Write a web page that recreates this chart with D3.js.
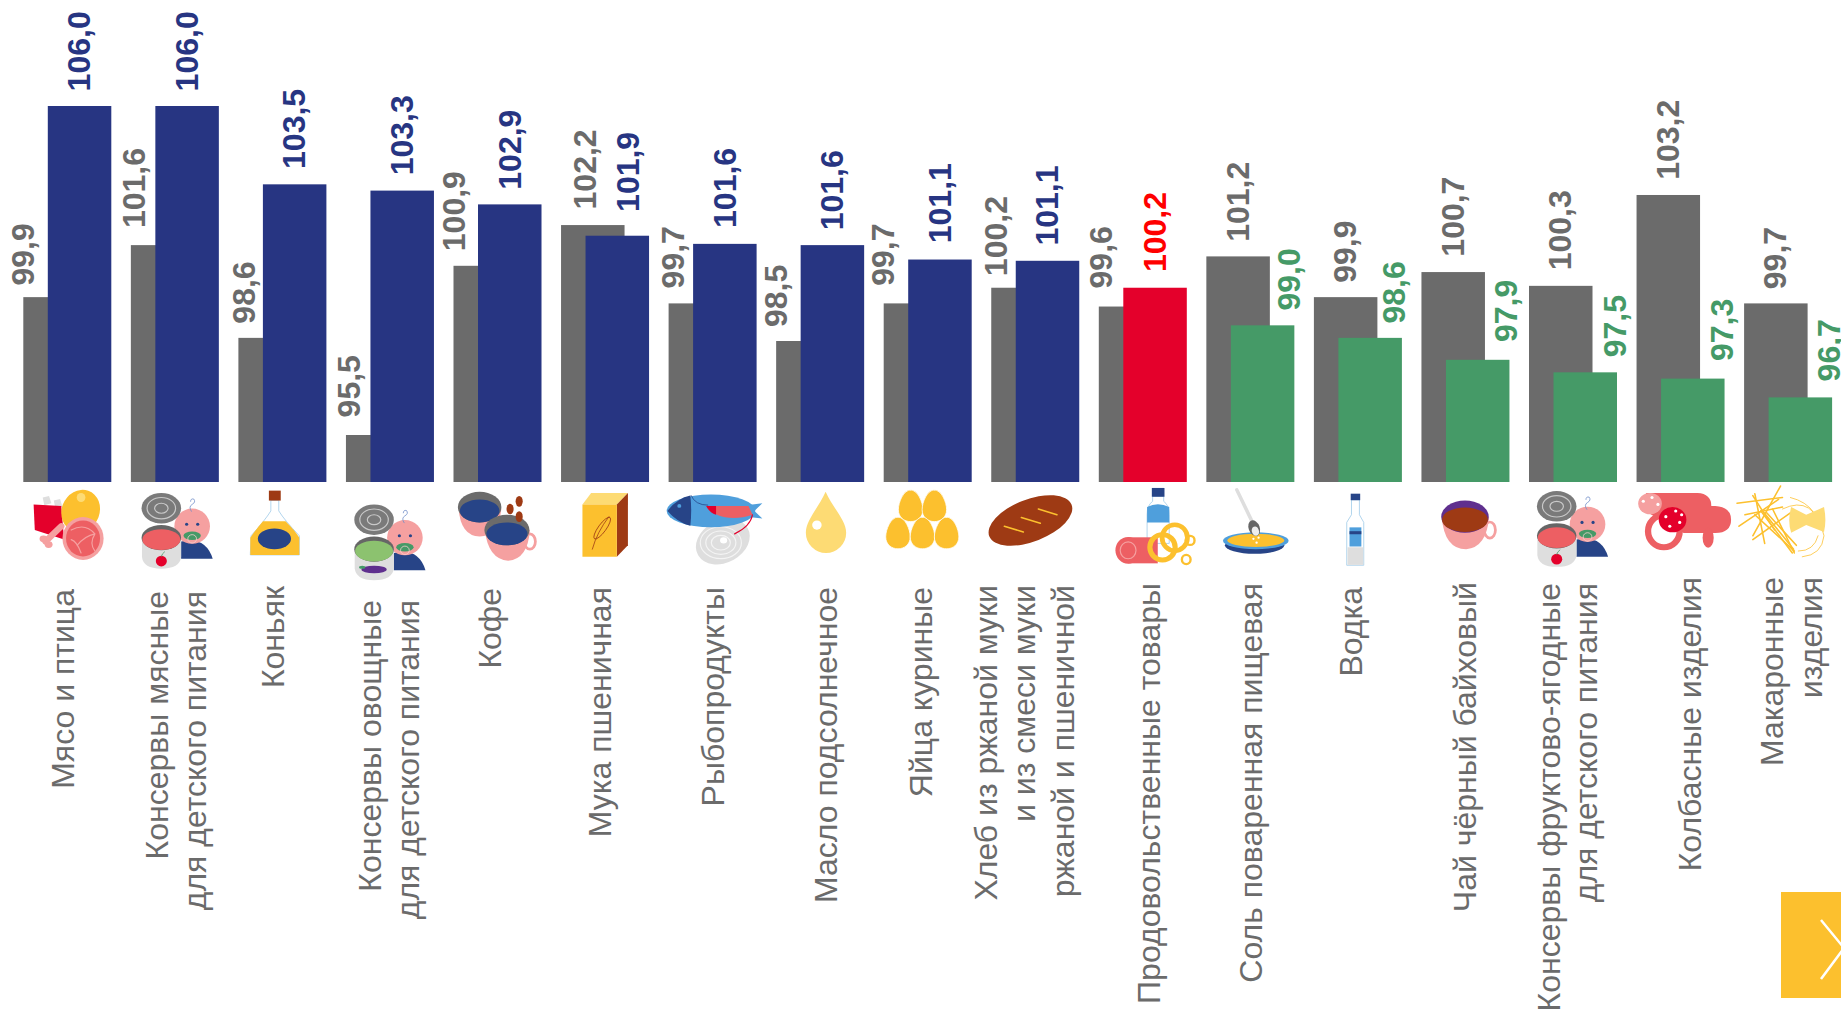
<!DOCTYPE html>
<html>
<head>
<meta charset="utf-8">
<style>
  html, body { margin: 0; padding: 0; background: #fff; overflow: hidden; }
  svg { display: block; }
  text { font-family: "Liberation Sans", Arial, sans-serif; }
</style>
</head>
<body>
<div id="chart"></div>
<script src="https://cdn.jsdelivr.net/npm/d3@7"></script>
<script>
"use strict";
// category labels, one inner array per wrapped line
const categories = [
    ["Мясо и птица"],
    ["Консервы мясные", "для детского питания"],
    ["Коньяк"],
    ["Консервы овощные", "для детского питания"],
    ["Кофе"],
    ["Мука пшеничная"],
    ["Рыбопродукты"],
    ["Масло подсолнечное"],
    ["Яйца куриные"],
    ["Хлеб из ржаной муки", "и из смеси муки", "ржаной и пшеничной"],
    ["Продовольственные товары"],
    ["Соль поваренная пищевая"],
    ["Водка"],
    ["Чай чёрный байховый"],
    ["Консервы фруктово-ягодные", "для детского питания"],
    ["Колбасные изделия"],
    ["Макаронные", "изделия"]
];
const prevValues = [99.9, 101.56, 98.6, 95.5, 100.9, 102.2, 99.7, 98.5, 99.7, 100.2, 99.6, 101.2, 99.9, 100.7, 100.26, 103.16, 99.7];
const currValues = [106.0, 106.0, 103.5, 103.3, 102.86, 101.86, 101.6, 101.56, 101.1, 101.06, 100.2, 99.0, 98.6, 97.9, 97.5, 97.3, 96.7];
const totalIndex = 10;

// hand placement of the labels, relative to each group's left edge and to the bar top
const prevLabelDx = [11, 14.2, 16.6, 13.8, 11, 34.9, 15.8, 11, 10.3, 16.2, 13.5, 42.4, 42, 42.6, 42, 42.4, 41.5];
const currLabelDx = [67, 67, 67, 67, 67, 77.5, 67, 67, 67, 67, 67, 93.7, 91, 96, 96.5, 96.4, 95.7];
const prevLabelGap = [13, 18.5, 15.6, 19, 16, 17, 16.4, 15.4, 19, 13, 19.5, 16, 15.8, 16.8, 16.9, 16.6, 15.6];
const currLabelGap = [16, 16, 16.8, 16.7, 16.1, 25.2, 17.3, 16.2, 17.7, 16.6, 17.1, 16.2, 15.7, 19.2, 16.4, 18.9, 17.4];
const lineDx = [[50.7], [37.1, 75.1], [45.6], [35, 73], [47.5], [50], [55.4], [60.8], [48.3], [5.7, 43.7, 83.2],
    [60.8], [55.7], [48.1], [55], [31, 68], [64.4], [38.9, 77.4]];
const lineTop = [589, 591, 586, 600, 588, 587, 587, 587, 587, 585, 583, 583, 587, 582, 583, 577, 577];

const width = 1841;
const height = 1010;
const colors = {
    gray: "#6b6b6b", blue: "#273582", green: "#459a67", red: "#e4002b", redText: "#ff0000",
    yellow: "#fcc02e", pale: "#fddb74", pink: "#f5a0a0", coral: "#ed5f63", navy: "#274487",
    sky: "#4f9fdc", brown: "#9e3a14", light: "#dedede", outline: "#9cc9e8", purple: "#5f2f8e"
};

const svg = d3.select("#chart").append("svg")
    .attr("width", width)
    .attr("height", height);

const barWidth = 63.5;
const barShift = 24.5;
const step = 107.55;
const x = d3.scaleBand()
    .domain(d3.range(categories.length))
    .range([23.3, 23.3 + step * (categories.length - 1) + barWidth + barShift])
    .paddingInner(1 - (barWidth + barShift) / step);
const y = d3.scaleLinear()
    .domain([94, 106])
    .range([482, 106]);

const comma = d3.formatLocale({ decimal: ",", thousands: " ", grouping: [3], currency: ["", ""] }).format(".1f");
const currColor = i => i === totalIndex ? colors.red : (currValues[i] > currValues[totalIndex] ? colors.blue : colors.green);
const currText = i => i === totalIndex ? colors.redText : currColor(i);

const groups = svg.selectAll(".group")
    .data(categories)
    .enter().append("g")
    .attr("class", "group");

groups.append("rect")
    .attr("x", (d, i) => x(i))
    .attr("y", (d, i) => y(prevValues[i]))
    .attr("width", barWidth)
    .attr("height", (d, i) => y(94) - y(prevValues[i]))
    .attr("fill", colors.gray);

groups.append("rect")
    .attr("x", (d, i) => x(i) + barShift)
    .attr("y", (d, i) => y(currValues[i]))
    .attr("width", barWidth)
    .attr("height", (d, i) => y(94) - y(currValues[i]))
    .attr("fill", (d, i) => currColor(i));

const valueLabel = (sel, values, dx, gap, fill) => sel.append("text")
    .attr("transform", (d, i) => `translate(${x(i) + dx[i]},${y(values[i]) - gap[i] + 1.4}) rotate(-90)`)
    .attr("font-size", 32)
    .attr("font-weight", "bold")
    .attr("fill", fill)
    .text((d, i) => comma(values[i]));

valueLabel(groups, prevValues, prevLabelDx, prevLabelGap, colors.gray);
valueLabel(groups, currValues, currLabelDx, currLabelGap, (d, i) => currText(i));

groups.each(function (lines, i) {
    d3.select(this).selectAll(".cat")
        .data(lines)
        .enter().append("text")
        .attr("class", "cat")
        .attr("transform", (l, k) => `translate(${x(i) + lineDx[i][k]},${lineTop[i]}) rotate(-90)`)
        .attr("text-anchor", "end")
        .attr("font-size", 32)
        .attr("fill", colors.gray)
        .text(l => l);
});

// icon helpers, drawn in crop units and scaled back to the page
const icon = originX => svg.append("g")
    .attr("transform", `translate(${originX},0) scale(${1 / 2.529},${1 / 2.613})`);
const ell = (g, cx, cy, rx, ry, fill, rot) => g.append("ellipse")
    .attr("cx", cx).attr("cy", cy).attr("rx", rx).attr("ry", ry).attr("fill", fill)
    .attr("transform", rot ? `rotate(${rot} ${cx} ${cy})` : null);
const ring = (g, cx, cy, rx, ry, stroke, sw) => g.append("ellipse")
    .attr("cx", cx).attr("cy", cy).attr("rx", rx).attr("ry", ry)
    .attr("fill", "none").attr("stroke", stroke).attr("stroke-width", sw);
const path = (g, d, fill, stroke, sw) => g.append("path")
    .attr("d", d).attr("fill", fill || "none")
    .attr("stroke", stroke || "none").attr("stroke-width", sw || 0).attr("stroke-linecap", "round");

// tin and baby, used three times
function canBaby(originX, dx, dy, soup, fruit) {
    const g = icon(originX).append("g").attr("transform", `translate(${dx},${dy})`);
    path(g, "M458,1415 Q520,1400 538,1460 L458,1460 Z", colors.navy);
    ell(g, 486, 1375, 45, 46, colors.pink);
    ell(g, 472, 1370, 4, 4, colors.navy);
    ell(g, 500, 1370, 4, 4, colors.navy);
    ell(g, 486, 1400, 22, 11, colors.green);
    ring(g, 486, 1408, 11, 11, "#f9d0d0", 2);
    path(g, "M484,1336 Q476,1324 486,1318 Q496,1312 490,1304 Q482,1302 482,1310", null, "#6f8cc8", 2);
    ell(g, 408, 1328, 50, 40, "#7a7a7a");
    ring(g, 408, 1328, 36, 28, "#c9c9c9", 3);
    ring(g, 408, 1328, 17, 13, "#c9c9c9", 3);
    path(g, "M359,1405 V1455 Q362,1486 408,1486 Q455,1486 458,1455 V1405 Z", colors.light);
    ell(g, 408, 1405, 50, 33, "#666");
    ell(g, 408, 1410, 48, 27, soup);
    fruit(g);
}
const cherry = g => {
    ell(g, 408, 1466, 14, 14, colors.red);
    path(g, "M408,1454 Q410,1446 416,1442", null, colors.green, 2);
};
const eggplant = g => {
    ell(g, 408, 1458, 32, 10, colors.purple);
    ell(g, 378, 1452, 8, 4, colors.green);
};

// 0 meat and poultry
let g = icon(0);
path(g, "M108,1300 L124,1296 L130,1315 L112,1320 Z M136,1308 L152,1304 L158,1325 L140,1328 Z", colors.light);
path(g, "M85,1318 L155,1322 L162,1410 L88,1385 Z", colors.red);
path(g, "M155,1375 L115,1415", null, colors.pink, 16);
ell(g, 110, 1408, 10, 9, colors.pink);
ell(g, 123, 1423, 10, 9, colors.pink);
ell(g, 204, 1335, 48, 56, colors.yellow, 20);
ell(g, 205, 1300, 11, 12, colors.pale);
ell(g, 210, 1407, 52, 56, colors.pink);
ell(g, 210, 1407, 43, 47, colors.coral);
path(g, "M180,1385 Q215,1365 240,1395 Q225,1420 240,1440 M195,1425 Q215,1400 240,1395 M180,1410 Q195,1415 205,1445", null, colors.pink, 3);

canBaby(0, 0, 0, colors.coral, cherry);

// 2 cognac
g = icon(0);
path(g, "M685,1308 V1335 Q670,1360 635,1400 L633,1450 H757 V1400 Q720,1360 705,1335 V1308 Z", "#fff", colors.outline, 2);
path(g, "M665,1362 H722 Q745,1385 757,1405 V1450 H633 V1405 Q650,1380 665,1362 Z", colors.yellow);
ell(g, 694, 1408, 42, 27, colors.navy);
path(g, "M680,1282 H710 V1308 H680 Z", colors.brown);

canBaby(0, 538, 30, "#8cc26f", eggplant);

// 4 coffee
g = icon(0);
path(g, "M1160,1330 Q1165,1400 1213,1402 Q1260,1400 1268,1330 Z", colors.pink);
ell(g, 1213, 1325, 55, 40, "#6b6b6b");
ell(g, 1213, 1335, 50, 30, colors.navy);
ring(g, 1340, 1415, 14, 20, colors.pink, 7);
path(g, "M1226,1385 Q1235,1462 1285,1465 Q1335,1462 1340,1385 Z", colors.pink);
ell(g, 1282, 1385, 57, 40, "#6b6b6b");
ell(g, 1282, 1395, 52, 30, colors.navy);
ell(g, 1313, 1310, 9, 14, colors.brown);
ell(g, 1290, 1330, 9, 14, colors.brown);
ell(g, 1313, 1350, 9, 14, colors.brown);

// 5 flour
g = icon(0);
path(g, "M1473,1318 L1495,1288 H1588 L1560,1318 Z", colors.pale);
path(g, "M1560,1318 L1588,1288 V1425 L1560,1455 Z", colors.brown);
path(g, "M1473,1318 H1560 V1455 H1473 Z", colors.yellow);
path(g, "M1498,1435 Q1510,1390 1540,1350", null, colors.brown, 2);
ell(g, 1523, 1380, 10, 34, "none", 35).attr("stroke", colors.brown).attr("stroke-width", 2);

// 6 fish products
g = icon(620);
ell(g, 260, 1415, 72, 55, colors.light, -30);
[52, 38, 24].forEach(r => ring(g, 255, 1418, r, r * 0.8, "#f4f4f4", 3));
ell(g, 262, 1412, 9, 8, "#fff");
path(g, "M320,1320 L360,1315 L340,1335 L360,1355 L320,1350 Z", colors.sky);
ell(g, 230, 1335, 112, 43, colors.sky);
path(g, "M120,1335 Q145,1302 178,1295 Q182,1335 178,1374 Q145,1365 120,1335 Z", colors.navy);
ell(g, 150, 1322, 5, 5, colors.sky);
path(g, "M218,1322 H325 L335,1345 Q285,1362 245,1345 Z", colors.coral);
path(g, "M218,1322 H243 V1345 Q226,1340 218,1322 Z", colors.red);
path(g, "M180,1295 Q190,1320 222,1320", null, colors.navy, 2);
path(g, "M335,1345 Q330,1375 290,1395", null, colors.red, 3);

// 7 sunflower oil
g = icon(620);
path(g, "M520,1285 C500,1330 470,1360 470,1392 A50,52 0 0 0 572,1392 C572,1360 540,1330 520,1285 Z", colors.pale);
ell(g, 498, 1372, 12, 12, "#fff");

// 8 eggs
g = icon(620);
[[735, 1322], [795, 1322], [703, 1393], [765, 1393], [826, 1393]].forEach(p => {
    const c = p[0], b = p[1];
    path(g, `M${c},${b - 42} C${c + 18},${b - 42} ${c + 31},${b - 10} ${c + 31},${b + 10} C${c + 31},${b + 30} ${c + 16},${b + 41} ${c},${b + 41} C${c - 16},${b + 41} ${c - 31},${b + 30} ${c - 31},${b + 10} C${c - 31},${b - 10} ${c - 18},${b - 42} ${c},${b - 42} Z`,
        colors.yellow, "#fff", 2);
});

// 9 bread
g = icon(620);
ell(g, 1038, 1360, 112, 55, colors.brown, -22);
[[972, 1375, 1020, 1390], [1015, 1352, 1063, 1367], [1058, 1330, 1105, 1345]].forEach(p => {
    path(g, `M${p[0]},${p[1]} L${p[2]},${p[3]}`, null, colors.yellow, 4);
});

// 10 all food products
g = icon(620);
path(g, "M1347,1298 V1310 Q1333,1320 1333,1345 V1420 H1389 V1345 Q1389,1320 1375,1310 V1298 Z", "#fff", colors.outline, 2);
path(g, "M1333,1325 Q1360,1310 1389,1325 V1365 H1333 Z", colors.sky);
path(g, "M1345,1275 H1377 V1298 H1345 Z", colors.navy);
path(g, "M1285,1404 H1360 V1472 H1285 Z", colors.coral);
ell(g, 1285, 1438, 32, 35, colors.coral);
ring(g, 1285, 1438, 20, 22, colors.pink, 3);
ring(g, 1403, 1405, 32, 34, colors.yellow, 12);
ring(g, 1372, 1430, 32, 33, colors.yellow, 13);
ring(g, 1442, 1412, 11, 12, colors.yellow, 6);
ring(g, 1432, 1462, 11, 12, colors.yellow, 6);

// 11 salt
g = icon(1221);
path(g, "M40,1280 L82,1370", null, colors.light, 9);
ell(g, 85, 1425, 75, 22, colors.navy);
ell(g, 88, 1413, 83, 22, colors.sky);
ell(g, 88, 1412, 72, 17, colors.yellow);
ell(g, 84, 1380, 14, 21, "#666", -20);
ell(g, 87, 1388, 9, 12, "#eee", -20);
[[82, 1408], [95, 1405], [90, 1418]].forEach(p => ell(g, p[0], p[1], 3, 3, "#fff"));

// 12 vodka
g = icon(1221);
path(g, "M330,1307 V1345 L318,1365 V1477 H361 V1365 L350,1345 V1307 Z", "#fff", colors.outline, 2);
path(g, "M320,1430 H360 V1476 H320 Z", colors.light);
path(g, "M325,1378 H355 V1428 H325 Z", colors.sky);
path(g, "M325,1388 H355 V1396 H325 Z", colors.navy);
path(g, "M328,1290 H352 V1307 H328 Z", colors.navy);

// 13 tea
g = icon(1221);
ring(g, 680, 1385, 14, 21, colors.pink, 7);
path(g, "M558,1350 Q565,1435 620,1435 Q672,1430 678,1350 Z", colors.pink);
ell(g, 617, 1350, 60, 42, colors.purple);
ell(g, 617, 1358, 58, 32, colors.brown);

canBaby(1221, 441, -5, colors.coral, cherry);

// 15 sausages
g = icon(1221);
path(g, "M1075,1288 H1205 Q1240,1290 1240,1322 H1250 Q1290,1325 1290,1358 Q1290,1392 1250,1393 H1170 L1080,1340 Z", colors.coral);
ell(g, 1232, 1405, 14, 26, colors.coral);
ring(g, 1120, 1388, 40, 42, colors.coral, 16);
ell(g, 1085, 1316, 30, 28, colors.pink);
ell(g, 1142, 1358, 35, 33, colors.red);
[[1068, 1310], [1090, 1300], [1105, 1318], [1125, 1350], [1150, 1335], [1160, 1365], [1135, 1375], [1165, 1345]].forEach(p => {
    ell(g, p[0], p[1], 4, 4, "#fff");
});

// 16 pasta
g = icon(1221);
[[1305, 1315, 1420, 1300], [1310, 1375, 1410, 1305], [1350, 1290, 1375, 1420], [1415, 1270, 1345, 1400],
    [1350, 1345, 1450, 1440], [1380, 1340, 1455, 1425], [1395, 1330, 1450, 1445], [1345, 1410, 1440, 1340],
    [1365, 1335, 1445, 1445], [1372, 1338, 1448, 1435], [1325, 1345, 1420, 1325], [1345, 1295, 1400, 1385]].forEach(p => {
    path(g, `M${p[0]},${p[1]} L${p[2]},${p[3]}`, null, colors.yellow, 4);
});
path(g, "M1420,1330 Q1500,1290 1525,1400 Q1520,1450 1470,1455 M1440,1300 Q1480,1310 1500,1340 M1460,1440 Q1500,1440 1510,1400", null, colors.yellow, 2);
path(g, "M1442,1325 L1480,1345 L1525,1325 Q1532,1360 1525,1390 L1480,1372 L1442,1392 Q1432,1360 1442,1325 Z", colors.pale);

// next button
svg.append("rect")
    .attr("x", 1781)
    .attr("y", 892)
    .attr("width", 60)
    .attr("height", 106)
    .attr("fill", "#fcc02e");
svg.append("path")
    .attr("d", "M1821,920 L1844,948 L1821,979")
    .attr("fill", "none")
    .attr("stroke", "#fff")
    .attr("stroke-width", 2.5);
</script>
</body>
</html>
